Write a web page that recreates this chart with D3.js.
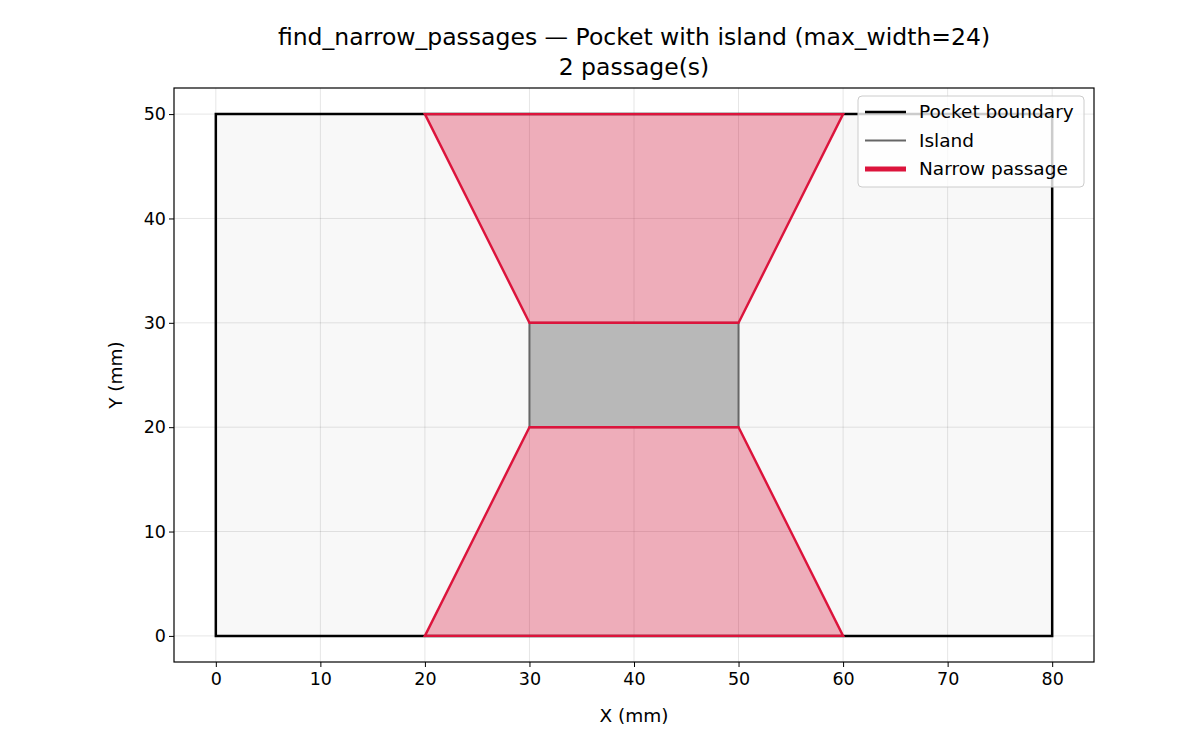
<!DOCTYPE html><html><head><meta charset="utf-8"><script src="https://cdn.jsdelivr.net/npm/d3@7"></script>
<style>body{margin:0;background:#fff}text{font-family:"DejaVu Sans",sans-serif}</style></head><body><svg width="1200" height="750"></svg><script>
const pocket=[[0,0],[80,0],[80,50],[0,50]];
const island=[[30,20],[50,20],[50,30],[30,30]];
const passages=[[[20,0],[60,0],[50,20],[30,20]],[[30,30],[50,30],[60,50],[20,50]]];
const xTicks=[0,10,20,30,40,50,60,70,80];
const yTicks=[0,10,20,30,40,50];
const svg=d3.select("svg");
const x=d3.scaleLinear().domain([-4,84]).range([174,1094]);
const y=d3.scaleLinear().domain([-2.5,52.5]).range([662,88]);
const line=d3.line().x(d=>x(d[0])).y(d=>y(d[1]));
const poly=p=>line(p)+"Z";
const g=svg.append("g");
g.append("path").attr("d",poly(pocket)).attr("fill","#f8f8f8");
xTicks.forEach(t=>g.append("line").attr("x1",x(t)).attr("x2",x(t)).attr("y1",88).attr("y2",662).attr("stroke","#000").attr("stroke-opacity",0.1));
yTicks.forEach(t=>g.append("line").attr("y1",y(t)).attr("y2",y(t)).attr("x1",174).attr("x2",1094).attr("stroke","#000").attr("stroke-opacity",0.1));
g.append("path").attr("d",poly(pocket)).attr("fill","none").attr("stroke","#000").attr("stroke-width",2.5);
g.append("path").attr("d",poly(island)).attr("fill","#b8b8b8").attr("stroke","#666").attr("stroke-width",2);
passages.forEach(p=>g.append("path").attr("d",poly(p)).attr("fill","rgba(220,20,60,0.33)").attr("stroke","#dc143c").attr("stroke-width",2.4));
svg.append("rect").attr("x",174).attr("y",88).attr("width",920).attr("height",574).attr("fill","none").attr("stroke","#000").attr("stroke-width",1.2);
svg.append("g").attr("transform","translate(0,662)").call(d3.axisBottom(x).tickValues(xTicks).tickSize(5).tickFormat(d3.format("d"))).call(a=>{a.select(".domain").remove();a.selectAll("text").attr("font-size",17.5).attr("fill","#000").attr("dy","0.85em");});
svg.append("g").attr("transform","translate(174,0)").call(d3.axisLeft(y).tickValues(yTicks).tickSize(5).tickFormat(d3.format("d"))).call(a=>{a.select(".domain").remove();a.selectAll("text").attr("font-size",17.5).attr("fill","#000");});
svg.append("text").attr("x",634).attr("y",722).attr("text-anchor","middle").attr("font-size",18.5).text("X (mm)");
svg.append("text").attr("transform","translate(122,375) rotate(-90)").attr("text-anchor","middle").attr("font-size",18.5).text("Y (mm)");
svg.append("text").attr("x",634).attr("y",45).attr("text-anchor","middle").attr("font-size",23.5).text("find_narrow_passages — Pocket with island (max_width=24)");
svg.append("text").attr("x",634).attr("y",75).attr("text-anchor","middle").attr("font-size",23.5).text("2 passage(s)");
const leg=svg.append("g");
leg.append("rect").attr("x",858).attr("y",96).attr("width",226).attr("height",91).attr("rx",4).attr("fill","#fff").attr("fill-opacity",0.8).attr("stroke","#ccc");
const items=[["Pocket boundary","#000",2.5],["Island","#666",2],["Narrow passage","#dc143c",5]];
items.forEach((it,i)=>{const yy=112+i*28.5;leg.append("line").attr("x1",865).attr("x2",906).attr("y1",yy).attr("y2",yy).attr("stroke",it[1]).attr("stroke-width",it[2]);
leg.append("text").attr("x",919).attr("y",yy+6).attr("font-size",18.5).text(it[0]);});
</script></body></html>
